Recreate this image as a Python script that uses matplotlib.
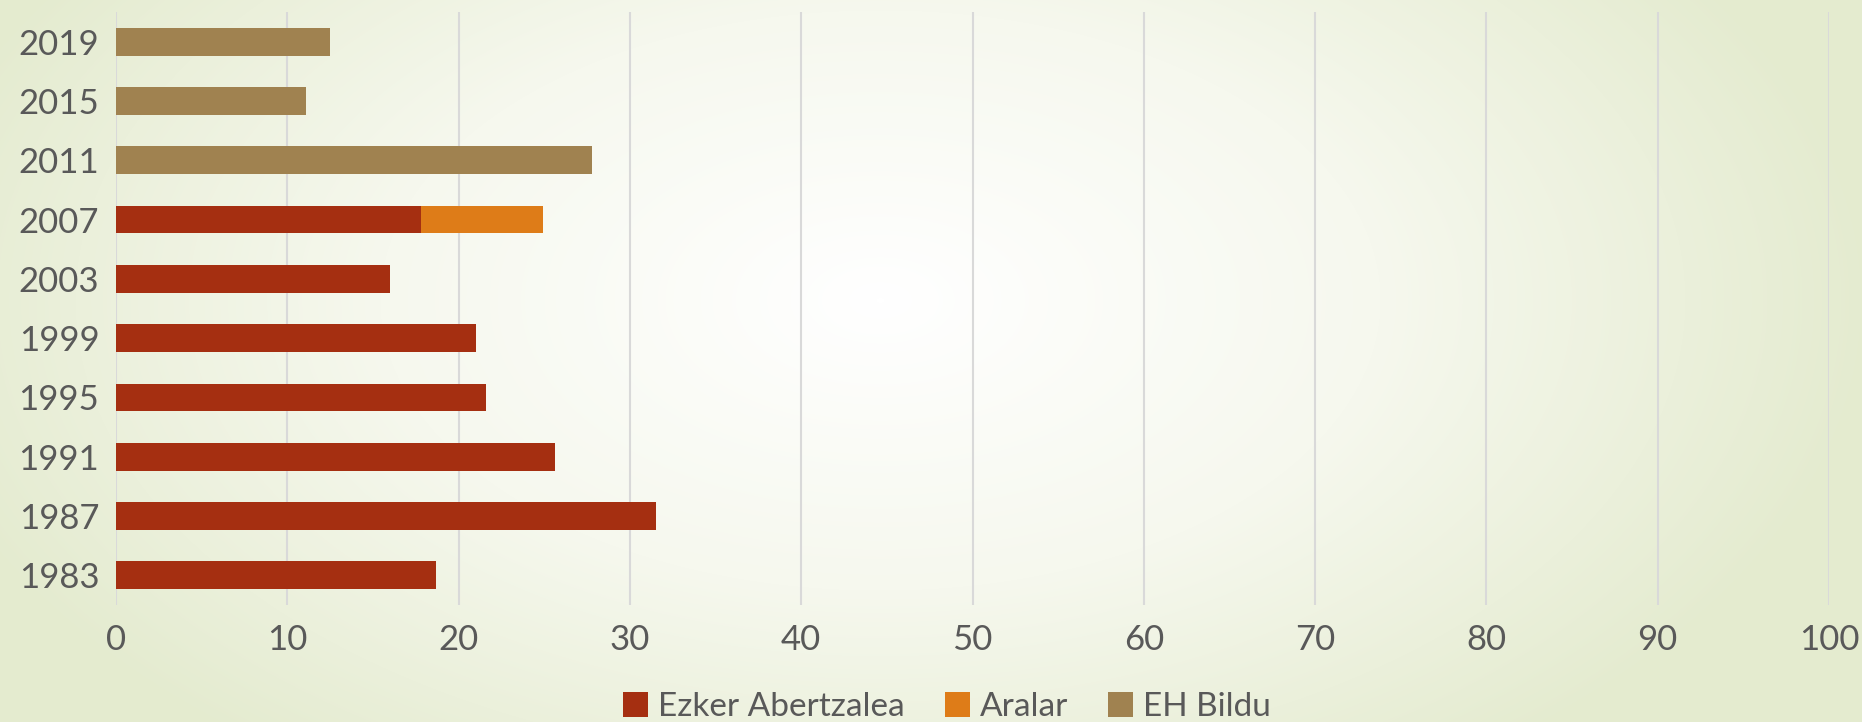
import numpy as np
import matplotlib.pyplot as plt
from matplotlib.colors import LinearSegmentedColormap

# election years, bottom to top
years = ['1983', '1987', '1991', '1995', '1999', '2003', '2007', '2011', '2015', '2019']
ezker_abertzalea = [18.7, 31.5, 25.6, 21.6, 21.0, 16.0, 17.8, 0, 0, 0]
aralar = [0, 0, 0, 0, 0, 0, 7.1, 0, 0, 0]
eh_bildu = [0, 0, 0, 0, 0, 0, 0, 27.8, 11.1, 12.5]

c_ea = '#a52f11'
c_ar = '#de7c18'
c_eh = '#a08250'
txt = '#595959'

plt.rcParams['font.family'] = ['Lato', 'DejaVu Sans']

fig = plt.figure(figsize=(18.62, 7.22), dpi=100)

# soft radial background, white in the middle, pale green at the edges
bg = fig.add_axes([0, 0, 1, 1], zorder=-10)
yy, xx = np.mgrid[0:722, 0:1862]
d = np.sqrt(((xx - 880) / 1000.0) ** 2 + ((yy - 300) / 580.0) ** 2)
d = np.clip(d, 0, 1)
cmap = LinearSegmentedColormap.from_list('bg', ['#ffffff', '#f6f8ee', '#e4ebcf'])
bg.imshow(d, cmap=cmap, aspect='auto', vmin=0, vmax=1)
bg.axis('off')

ax = fig.add_axes([116 / 1862, 1 - 605 / 722, (1829 - 116) / 1862, (605 - 12) / 722])
ax.patch.set_alpha(0)

y = np.arange(len(years))
h = 0.47
left2 = np.array(ezker_abertzalea)
left3 = left2 + np.array(aralar)
ax.barh(y, ezker_abertzalea, height=h, color=c_ea, label='Ezker Abertzalea', zorder=3)
ax.barh(y, aralar, height=h, left=left2, color=c_ar, label='Aralar', zorder=3)
ax.barh(y, eh_bildu, height=h, left=left3, color=c_eh, label='EH Bildu', zorder=3)

ax.set_xlim(0, 100)
ax.set_ylim(-0.5, len(years) - 0.5)
ax.set_xticks(range(0, 101, 10))
ax.set_yticks(y)
ax.set_yticklabels(years)
ax.grid(axis='x', color='#d9d9d9', linewidth=1.5, zorder=0)
ax.tick_params(length=0, labelsize=25, colors=txt)
ax.tick_params(axis='x', pad=14)
ax.tick_params(axis='y', pad=12)
for s in ax.spines.values():
    s.set_visible(False)

fig.legend(loc='center', bbox_to_anchor=(947 / 1862, 1 - 707 / 722), ncol=3, frameon=False,
           fontsize=24, labelcolor=txt, handlelength=0.75, handleheight=0.75,
           handletextpad=0.3, columnspacing=1.2, borderaxespad=0)

fig.savefig('out.png', dpi=100)
